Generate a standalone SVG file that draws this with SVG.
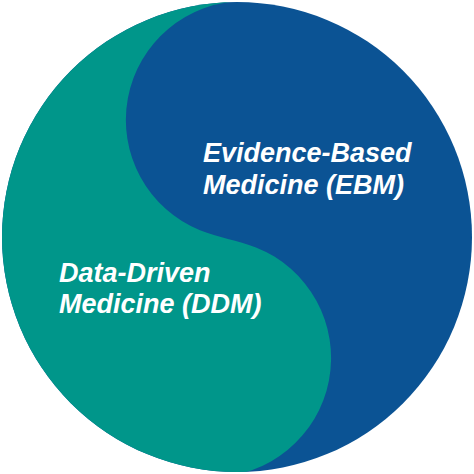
<svg xmlns="http://www.w3.org/2000/svg" width="474" height="474" viewBox="0 0 474 474">
  <defs>
    <clipPath id="disc">
      <circle cx="237" cy="237" r="235"/>
    </clipPath>
    <style>
      .lbl { font-family: "Liberation Sans", Arial, sans-serif; font-weight: bold; font-style: italic; font-size: 27px; fill: #ffffff; }
    </style>
  </defs>
  <rect width="474" height="474" fill="#ffffff"/>
  <g id="yinyang" clip-path="url(#disc)">
    <rect id="ebm-area" x="0" y="0" width="474" height="474" fill="#0b5394"/>
    <path id="ddm-area" fill="#00968a" d="M243 1 A119 119 0 0 0 200 230.2 C218.5 237.8 237.4 240 256 247.4 A119 119 0 0 1 212 477 L0 477 L0 0 L243 0 Z"/>
  </g>
  <g id="ebm">
    <text class="lbl" x="203" y="162">Evidence-Based</text>
    <text class="lbl" x="203" y="194">Medicine (EBM)</text>
  </g>
  <g id="ddm">
    <text class="lbl" x="59" y="282">Data-Driven</text>
    <text class="lbl" x="59" y="313">Medicine (DDM)</text>
  </g>
</svg>
